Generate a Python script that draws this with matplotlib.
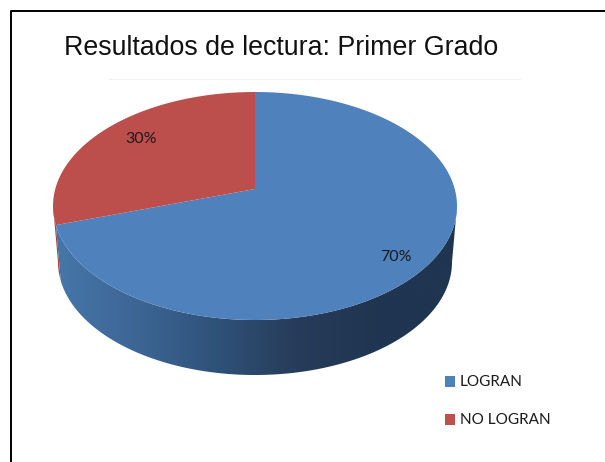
import numpy as np
import matplotlib
matplotlib.use("Agg")
import matplotlib.pyplot as plt
from matplotlib.patches import Polygon, Rectangle
from matplotlib.colors import LinearSegmentedColormap

titre = "Resultados de lectura: Primer Grado"
categories = ["LOGRAN", "NO LOGRAN"]
valeurs = [70, 30]
etiquettes = ["70%", "30%"]
couleurs = ["#4f81bd", "#bc4f4c"]

fig = plt.figure(figsize=(6.05, 4.62), dpi=100)
ax = fig.add_axes([0, 0, 1, 1])
ax.axis("off")

# geometrie du camembert en pixels
cx, cy, rx, ry = 255, 206, 202, 114
cy2, rx2, ry2 = 262, 197, 113
a = 17 / 114  # decalage du centre du a la perspective
bord = np.degrees(np.arcsin(a))  # angle ou le camembert est le plus large


def point(deg, cy_=cy, rx_=rx, ry_=ry):
    t = np.radians(deg)
    u, v = np.cos(t), np.sin(t)
    d = 1 + a * v
    return cx + rx_ * u * np.sqrt(1 - a * a) / d, cy_ - ry_ * (v + a) / d


angle_rouge = 90 + 360 * valeurs[1] / sum(valeurs)
apex = (cx, cy - ry * a)

# cote du camembert : degrade pour le bleu, bande sombre pour le rouge
t_bleu = np.linspace(angle_rouge, 360 - bord, 200)
xh, yh = point(t_bleu)
xb, yb = point(t_bleu[::-1], cy2, rx2, ry2)
cote = Polygon(np.c_[np.r_[xh, xb], np.r_[yh, yb]], closed=True, fc="none", ec="none")
ax.add_patch(cote)
cmap = LinearSegmentedColormap.from_list("cote", ["#4676aa", "#3d6695", "#2f5279", "#273c5a", "#1f3550", "#1f3550"])
grad = ax.imshow(np.linspace(0, 1, 256).reshape(1, -1), cmap=cmap, extent=[55, 457, 400, 200], aspect="auto", zorder=1)
grad.set_clip_path(cote)

t_rouge = np.linspace(180 + bord, angle_rouge, 40)
xh, yh = point(t_rouge)
xb, yb = point(t_rouge[::-1], cy2, rx2, ry2)
ax.add_patch(Polygon(np.c_[np.r_[xh, xb], np.r_[yh, yb]], closed=True, fc="#a8423f", ec="none", zorder=0.9))

# dessus
t = np.linspace(angle_rouge, 450, 400)
x, y = point(t)
ax.add_patch(Polygon(np.c_[np.r_[apex[0], x], np.r_[apex[1], y]], closed=True, fc=couleurs[0], ec="none", zorder=2))
t = np.linspace(90, angle_rouge, 200)
x, y = point(t)
ax.add_patch(Polygon(np.c_[np.r_[apex[0], x], np.r_[apex[1], y]], closed=True, fc=couleurs[1], ec="none", zorder=2))

# cadre (haut et gauche seulement) et filet sous le titre
ax.plot([10.5, 10.5, 605], [462, 10.5, 10.5], color="black", lw=1.4, zorder=5)
ax.plot([109, 520], [78.5, 78.5], color="#f0f0f0", lw=0.8)

ax.text(64, 55, titre, fontsize=19.3, family="Liberation Sans", va="baseline", ha="left", color="#111111")
ax.text(396, 257, etiquettes[0], fontsize=11.5, family="Lato", va="center", ha="center", color="#1a1a1a", zorder=3)
ax.text(141, 139, etiquettes[1], fontsize=11.5, family="Lato", va="center", ha="center", color="#1a1a1a", zorder=3)

# legende
for i, lab in enumerate(categories):
    yl = 381 + i * 38
    ax.add_patch(Rectangle((445, yl - 5), 10, 11, fc=couleurs[i] if i == 0 else "#c0504d", ec="none"))
    ax.text(460, yl + 0.5, lab, fontsize=11, family="Lato", va="center", ha="left", color="#1a1a1a")

ax.set_xlim(0, 605)
ax.set_ylim(462, 0)
fig.savefig("out.png", dpi=100)
